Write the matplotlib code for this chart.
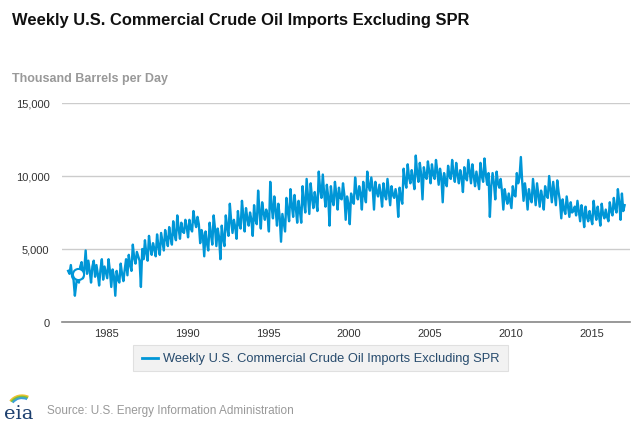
import numpy as np
import matplotlib
matplotlib.use("Agg")
import matplotlib.pyplot as plt
from matplotlib.patches import FancyBboxPatch, Arc

plt.rcParams['font.family'] = ['Liberation Sans', 'DejaVu Sans']

# Values (thousand barrels per day), ~12 readings per year
start_year = 1982.62
step = 1 / 12
imports = [
    3500, 3300, 3900, 3100, 2900,                                            # 1982
    1800, 2600, 3300, 2700, 3800, 4100, 3000, 3600, 4900, 3300, 4200, 3500,  # 1983
    2700, 3800, 4200, 3100, 3900, 3300, 2500, 3600, 4300, 2900, 3800, 3400,  # 1984
    3000, 4300, 3500, 2400, 3600, 3100, 1800, 3500, 2900, 2700, 4000, 3300,  # 1985
    2800, 3600, 4300, 3200, 4600, 3900, 3500, 5300, 4400, 4000, 4800, 4500,  # 1986
    4200, 2400, 5000, 4300, 5600, 4700, 4200, 5900, 5100, 4600, 5400, 5000,  # 1987
    4500, 6000, 5200, 4600, 6100, 5500, 4900, 6300, 5700, 5200, 6500, 5800,  # 1988
    5300, 6900, 6000, 5600, 7300, 6400, 5700, 6800, 6200, 6100, 7000, 6500,  # 1989
    5800, 7000, 6400, 6200, 7600, 6900, 6500, 7200, 6700, 5400, 6300, 5900,  # 1990
    4500, 6200, 5400, 4900, 6800, 6000, 5300, 7300, 6400, 5200, 6400, 5800,  # 1991
    4300, 6600, 5700, 5200, 7300, 6500, 5900, 8100, 6900, 6100, 7000, 6500,  # 1992
    5700, 7600, 6700, 6400, 8300, 7300, 6200, 7800, 7100, 6600, 7500, 7000,  # 1993
    5900, 8000, 7000, 6700, 9000, 7600, 6400, 8200, 7500, 7000, 7700, 7300,  # 1994
    6200, 9600, 7900, 7100, 8600, 7700, 6600, 8100, 7200, 5500, 7400, 6800,  # 1995
    6200, 8500, 7600, 6900, 9100, 8000, 7200, 8700, 7800, 6800, 8300, 7600,  # 1996
    6800, 9300, 8200, 7500, 9800, 8600, 7400, 9500, 8500, 7800, 8900, 8300,  # 1997
    7600, 10300, 9100, 8500, 10100, 8800, 7900, 9400, 8600, 6600, 9300, 8400,  # 1998
    8000, 9600, 8800, 7700, 9200, 8500, 8400, 9500, 8700, 7000, 8600, 8100,  # 1999
    6700, 8800, 8300, 8100, 9900, 8900, 8400, 9300, 8800, 7700, 9600, 8700,  # 2000
    8200, 10300, 9300, 9000, 9900, 9200, 7700, 9600, 8900, 8600, 9400, 8800,  # 2001
    7900, 9500, 8700, 8400, 9800, 8900, 8000, 9300, 8700, 8500, 9100, 8600,  # 2002
    7200, 9200, 8500, 8100, 10500, 9600, 9200, 10800, 9900, 9500, 10400, 9800,  # 2003
    9100, 11400, 10200, 9600, 10900, 10100, 8400, 10600, 10000, 9800, 11000, 10300,  # 2004
    9500, 10800, 10100, 9800, 11100, 10300, 9400, 10500, 9900, 8200, 10200, 9600,  # 2005
    9300, 10700, 10000, 9800, 11100, 10200, 9600, 10900, 10100, 9500, 10400, 9900,  # 2006
    8900, 10600, 9900, 9700, 11100, 10300, 9500, 10800, 10000, 9300, 10300, 9700,  # 2007
    9100, 10900, 10000, 9600, 11200, 10100, 9400, 10200, 7200, 9300, 10200, 9500,  # 2008
    8400, 10300, 9500, 9200, 9800, 8900, 7700, 9100, 8500, 8100, 8800, 8300,  # 2009
    7800, 9300, 8700, 8600, 10200, 9500, 9900, 11300, 9600, 8300, 9500, 8800,  # 2010
    7700, 9100, 8500, 8200, 9800, 8900, 8000, 9500, 8700, 7900, 9000, 8500,  # 2011
    7700, 9300, 8700, 8500, 10000, 9100, 8200, 9600, 8800, 8000, 9700, 8900,  # 2012
    8300, 7100, 8400, 7700, 7400, 8600, 7900, 7200, 8200, 7500, 7600, 7900,  # 2013
    7300, 8300, 7600, 6900, 8000, 7400, 6500, 7900, 7200, 6900, 7600, 7100,  # 2014
    6700, 8300, 7500, 7000, 7900, 7300, 6600, 8100, 7400, 7100, 7700, 7200,  # 2015
    6900, 8200, 7600, 7300, 8500, 7800, 7500, 9100, 8200, 7000, 8800, 7600,  # 2016
    8000,                                                                    # 2017
]
marker_index = 7  # hovered point (1983)

yticks = [0, 5000, 10000, 15000]
ytick_labels = ["0", "5,000", "10,000", "15,000"]
xticks = [1985, 1990, 1995, 2000, 2005, 2010, 2015]

title = "Weekly U.S. Commercial Crude Oil Imports Excluding SPR"
ylabel = "Thousand Barrels per Day"
series_name = "Weekly U.S. Commercial Crude Oil Imports Excluding SPR"
source = "Source: U.S. Energy Information Administration"

blue = "#0096d7"
W, H = 640, 427
fig = plt.figure(figsize=(W / 100, H / 100), dpi=100)
ax = fig.add_axes([62 / W, 1 - 323 / H, (630 - 62) / W, (323 - 104) / H])

years = start_year + np.arange(len(imports)) * step
ax.plot(years, imports, color=blue, lw=1.7, solid_joinstyle='round', zorder=3)
ax.plot(years[marker_index], imports[marker_index], 'o', ms=8, mfc='white',
        mec=blue, mew=1.5, zorder=4)

ax.set_xlim(1982.24, 2017.37)
ax.set_ylim(0, 15000)
ax.set_yticks(yticks)
ax.set_yticklabels(ytick_labels)
ax.set_xticks(xticks)
ax.grid(axis='y', color='#cccccc', lw=1)
ax.set_axisbelow(True)
for s in ['top', 'right', 'left']:
    ax.spines[s].set_visible(False)
ax.spines['bottom'].set_color('#888888')
ax.spines['bottom'].set_linewidth(1.2)
ax.tick_params(axis='both', length=0, labelsize=8, labelcolor='#333333')
ax.tick_params(axis='y', pad=9)
ax.tick_params(axis='x', pad=4)

fig.text(12 / W, 1 - 20 / H, title, fontsize=11.9, fontweight='bold',
         color='#111111', va='center', ha='left')
fig.text(12 / W, 1 - 79 / H, ylabel, fontsize=9, fontweight='bold',
         color='#999999', va='center', ha='left')

# Legend box
lx0, lx1, ly0, ly1 = 133, 508, 346, 372
box = FancyBboxPatch((lx0 / W, 1 - ly1 / H), (lx1 - lx0) / W, (ly1 - ly0) / H,
                     boxstyle='square,pad=0', transform=fig.transFigure,
                     facecolor='#f2f2f2', edgecolor='#e0e0e0', lw=0.8)
fig.patches.append(box)
ly = 1 - ((ly0 + ly1) / 2) / H
fig.add_artist(plt.Line2D([142 / W, 158 / W], [ly, ly], color=blue, lw=2,
                          transform=fig.transFigure))
fig.text(163 / W, ly, series_name, fontsize=9.3, color='#274b6d',
         va='center', ha='left')

# Source + eia logo
fig.text(47 / W, 1 - 411 / H, source, fontsize=8.5, color='#999999',
         va='center', ha='left')
fig.text(4 / W, 1 - 414 / H, "eia", fontsize=14, family='DejaVu Serif',
         color='#1c3f6e', va='center', ha='left')
lax = fig.add_axes([4 / W, 1 - 407 / H, 30 / W, 12 / H])
lax.set_xlim(0, 30)
lax.set_ylim(0, 12)
lax.axis('off')
for r, c in [(14, '#f2c12e'), (12.5, '#7cbf3d'), (11, '#3aa0d8')]:
    lax.add_patch(Arc((18, -2), 2 * r, 2 * r * 0.9, theta1=60, theta2=150,
                      color=c, lw=1.5))

fig.savefig("out.png", dpi=100)
